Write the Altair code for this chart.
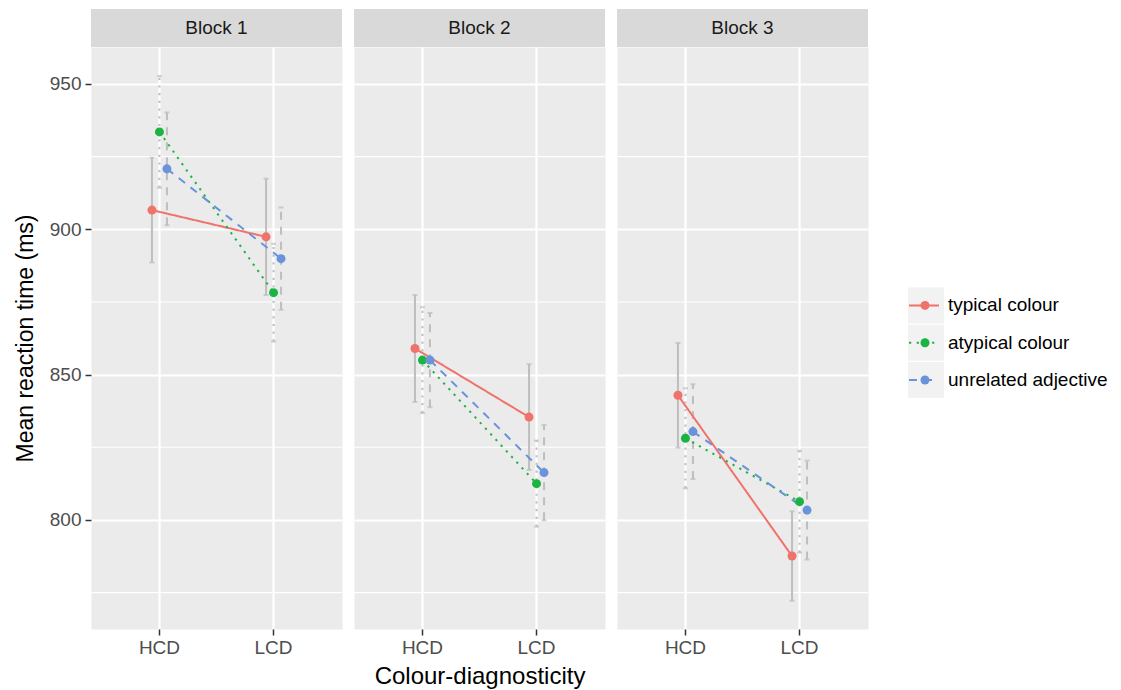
import altair as alt
import pandas as pd

blocks = ["Block 1", "Block 2", "Block 3"]
diagnosticity = ["HCD", "LCD"]
conditions = ["typical colour", "atypical colour", "unrelated adjective"]

# mean reaction time per block, [HCD, LCD]
typical_mean = [[906.6, 897.4], [859.0, 835.4], [842.9, 787.6]]
atypical_mean = [[933.5, 878.2], [855.0, 812.5], [828.1, 806.3]]
unrelated_mean = [[920.8, 889.9], [855.0, 816.3], [830.4, 803.4]]
# half-width of the error bars, [HCD, LCD]
typical_err = [[18.0, 20.0], [18.4, 18.2], [18.0, 15.4]]
atypical_err = [[19.2, 16.8], [18.2, 14.8], [17.2, 17.5]]
unrelated_err = [[19.4, 17.6], [16.2, 16.4], [16.3, 17.0]]

y_breaks = [800, 850, 900, 950]
y_minor = [775, 825, 875, 925]
y_limits = [762.5, 962.7]

colours = ["#EF736B", "#1AB443", "#6993DA"]
dashes = [[1, 0], [2.2, 5.5], [8, 7]]

rows = []
for cond, means, errs in zip(conditions,
                             [typical_mean, atypical_mean, unrelated_mean],
                             [typical_err, atypical_err, unrelated_err]):
    for b, blk in enumerate(blocks):
        for d, dg in enumerate(diagnosticity):
            m = means[b][d]
            e = errs[b][d]
            rows.append(dict(Block=blk, Diag=dg, Cond=cond, rt=m, lo=m - e, hi=m + e))
df = pd.DataFrame(rows)

W, H, STRIP = 251, 582, 38
FONT = "Liberation Sans"
BAND = W / 2.2
DODGE = 7.5

xscale = alt.Scale(domain=diagnosticity, paddingInner=0, paddingOuter=0.1)
offscale = alt.Scale(domain=conditions, paddingInner=0, paddingOuter=0,
                     range=[BAND / 2 - 1.5 * DODGE, BAND / 2 + 1.5 * DODGE])
yscale = alt.Scale(domain=y_limits, nice=False, zero=False)
cscale = alt.Scale(domain=conditions, range=colours)
dscale = alt.Scale(domain=conditions, range=dashes)


def panel(i):
    sub = df[df.Block == blocks[i]]
    if i == 0:
        yaxis = alt.Axis(values=y_breaks, title="Mean reaction time (ms)", grid=True,
                         gridColor="white", gridWidth=2.2, ticks=True, tickSize=6,
                         tickColor="#333333", tickWidth=1.5, labelPadding=4,
                         labelColor="#4D4D4D", labelFontSize=19, domain=False,
                         titleFontSize=23, titlePadding=12, titleColor="black",
                         titleFontWeight="normal")
    else:
        yaxis = alt.Axis(values=y_breaks, title="", grid=True, gridColor="white",
                         gridWidth=2.2, ticks=False, labels=False, domain=False)
    xaxis = alt.Axis(title="Colour-diagnosticity" if i == 1 else "", grid=True,
                     gridColor="white", gridWidth=2.2, ticks=True, tickSize=6,
                     tickColor="#333333", tickWidth=1.5, labelPadding=3,
                     labelColor="#4D4D4D", labelFontSize=19, labelAngle=0,
                     domain=False, titleFontSize=24, titlePadding=7,
                     titleColor="black", titleFontWeight="normal")

    x = alt.X("Diag:N", scale=xscale, axis=xaxis, sort=diagnosticity)
    xo = alt.XOffset("Cond:N", scale=offscale, sort=conditions)

    base = alt.Chart(sub)

    minor = alt.Chart(pd.DataFrame({"v": y_minor})).mark_rule(
        color="white", strokeWidth=1.1).encode(
        y=alt.Y("v:Q", scale=yscale, axis=yaxis))

    bars = base.mark_rule(color="#BEBEBE", strokeWidth=2).encode(
        x=x, xOffset=xo,
        y=alt.Y("lo:Q", scale=yscale, axis=yaxis), y2="hi:Q",
        strokeDash=alt.StrokeDash("Cond:N", scale=dscale, legend=None))
    cap_lo = base.mark_tick(color="#BEBEBE", thickness=2, size=5).encode(
        x=x, xOffset=xo, y=alt.Y("lo:Q", scale=yscale, axis=yaxis))
    cap_hi = base.mark_tick(color="#BEBEBE", thickness=2, size=5).encode(
        x=x, xOffset=xo, y=alt.Y("hi:Q", scale=yscale, axis=yaxis))

    lines = base.mark_line(strokeWidth=2).encode(
        x=x, xOffset=xo, y=alt.Y("rt:Q", scale=yscale, axis=yaxis),
        color=alt.Color("Cond:N", scale=cscale, legend=None),
        strokeDash=alt.StrokeDash("Cond:N", scale=dscale, legend=None),
        detail="Cond:N")
    points = base.mark_circle(size=81, opacity=1).encode(
        x=x, xOffset=xo, y=alt.Y("rt:Q", scale=yscale, axis=yaxis),
        color=alt.Color("Cond:N", scale=cscale, legend=None))

    strip_df = pd.DataFrame({"Block": [blocks[i]]})
    strip = alt.Chart(strip_df).mark_rect(color="#D9D9D9").encode(
        x=alt.value(0), x2=alt.value(W), y=alt.value(-STRIP), y2=alt.value(0))
    strip_text = alt.Chart(strip_df).mark_text(
        fontSize=19, color="#1A1A1A", font=FONT, baseline="middle", align="center").encode(
        x=alt.value(W / 2), y=alt.value(-STRIP / 2), text="Block:N")

    return alt.layer(minor, bars, cap_lo, cap_hi, lines, points, strip, strip_text).properties(
        width=W, height=H)


LEG_H = 351
leg_df = pd.DataFrame({"Cond": conditions})
ly_scale = alt.Scale(domain=conditions, paddingInner=0.035, paddingOuter=0,
                     range=[LEG_H - 110.6, LEG_H])


def ly():
    return alt.Y("Cond:N", scale=ly_scale, axis=None, sort=conditions, bandPosition=0.5)


KX = 29
leg_base = alt.Chart(leg_df)
leg_keys = leg_base.mark_rect(color="#F2F2F2").encode(
    x=alt.value(KX), x2=alt.value(KX + 36),
    y=alt.Y("Cond:N", scale=ly_scale, axis=None, sort=conditions))
leg_lines = leg_base.mark_rule(strokeWidth=2).encode(
    x=alt.value(KX + 1), x2=alt.value(KX + 31), y=ly(),
    color=alt.Color("Cond:N", scale=cscale, legend=None),
    strokeDash=alt.StrokeDash("Cond:N", scale=dscale, legend=None))
leg_pts = leg_base.mark_circle(size=81, opacity=1).encode(
    x=alt.value(KX + 17), y=ly(),
    color=alt.Color("Cond:N", scale=cscale, legend=None))
leg_text = leg_base.mark_text(align="left", baseline="middle", fontSize=19,
                              font=FONT, color="black").encode(
    x=alt.value(KX + 40), y=ly(), text="Cond:N")
legend = alt.layer(leg_keys, leg_lines, leg_pts, leg_text).properties(
    width=210, height=LEG_H,
    view=alt.ViewBackground(fill="white", stroke="transparent"))

chart = alt.hconcat(panel(0), panel(1), panel(2), legend, spacing=8).properties(
    padding={"left": 5, "top": 0, "right": 0, "bottom": 0}
).configure_view(
    fill="#EBEBEB", stroke="transparent"
).configure_axis(
    labelFont=FONT, titleFont=FONT
).configure_text(font=FONT)

chart.save("out.html", embed_options={"renderer": "svg", "actions": False})
